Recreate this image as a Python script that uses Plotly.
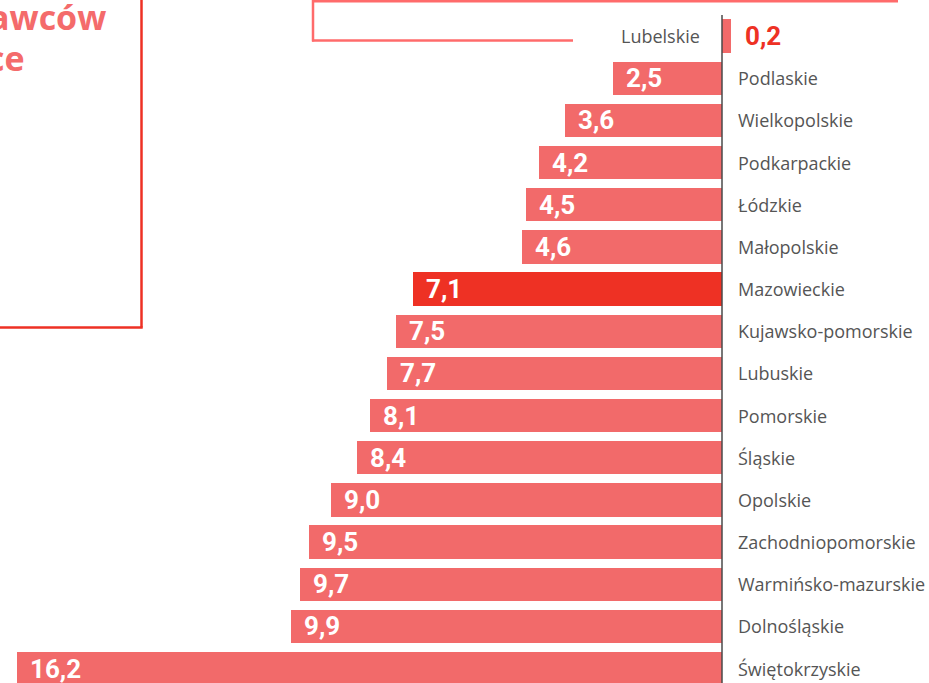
import plotly.graph_objects as go

regions = ["Lubelskie", "Podlaskie", "Wielkopolskie", "Podkarpackie", "Łódzkie",
           "Małopolskie", "Mazowieckie", "Kujawsko-pomorskie", "Lubuskie", "Pomorskie",
           "Śląskie", "Opolskie", "Zachodniopomorskie", "Warmińsko-mazurskie",
           "Dolnośląskie", "Świętokrzyskie"]
values = [0.2, 2.5, 3.6, 4.2, 4.5, 4.6, 7.1, 7.5, 7.7, 8.1, 8.4, 9.0, 9.5, 9.7, 9.9, 16.2]
value_labels = ["0,2", "2,5", "3,6", "4,2", "4,5", "4,6", "7,1", "7,5", "7,7", "8,1",
                "8,4", "9,0", "9,5", "9,7", "9,9", "16,2"]
highlight = "Mazowieckie"
flipped = "Lubelskie"

W, H = 929, 683
SALMON = "#F26A6A"
RED = "#EE3124"
GRAY = "#555555"

ypos = list(range(len(regions)))
bar_x = [v if r == flipped else -v for r, v in zip(regions, values)]
colors = [RED if r == highlight else SALMON for r in regions]

fig = go.Figure()
fig.add_trace(go.Bar(
    x=bar_x, y=ypos, orientation="h", marker=dict(color=colors, line=dict(width=0)),
    width=0.79, hoverinfo="skip"))

LABEL_FONT = dict(family="Open Sans", size=18, color=GRAY)
annotations = []
for i, (r, v, lab) in enumerate(zip(regions, values, value_labels)):
    if r == flipped:
        annotations.append(dict(x=0, y=i, xref="x", yref="y", text=r, showarrow=False,
                                xanchor="right", xshift=-20, font=LABEL_FONT))
        annotations.append(dict(x=0, y=i, xref="x", yref="y", text=f"<b>{lab}</b>",
                                showarrow=False, xanchor="left", xshift=21,
                                font=dict(family="Roboto", size=26, color=RED)))
    else:
        annotations.append(dict(x=0, y=i, xref="x", yref="y", text=r, showarrow=False,
                                xanchor="left", xshift=14, font=LABEL_FONT))
        annotations.append(dict(x=-v, y=i, xref="x", yref="y", text=f"<b>{lab}</b>",
                                showarrow=False, xanchor="left", xshift=11,
                                font=dict(family="Roboto", size=26, color="white")))


def px(x):
    return x / W


def py(y):
    return 1 - y / H


# cut-off title text in the left box
annotations.append(dict(x=px(108), y=py(-8), xref="paper", yref="paper",
                        text="<b>awców</b>", showarrow=False, xanchor="right", yanchor="top",
                        font=dict(family="Open Sans", size=34, color="#F46B6B")))
annotations.append(dict(x=px(27), y=py(33), xref="paper", yref="paper",
                        text="<b>ce</b>", showarrow=False, xanchor="right", yanchor="top",
                        font=dict(family="Open Sans", size=34, color="#F46B6B")))

SCALE = 43.5  # px per unit
AXIS_PX = 722
x_left = -AXIS_PX / SCALE
x_right = (W - AXIS_PX) / SCALE
PITCH = 42.16
y_top = -36.1 / PITCH
y_bottom = y_top + H / PITCH

shapes = [
    # left title box
    dict(type="line", xref="paper", yref="paper", x0=px(141.5), x1=px(141.5),
         y0=py(-5), y1=py(327.5), line=dict(color=RED, width=2.5)),
    dict(type="line", xref="paper", yref="paper", x0=px(-5), x1=px(142.7),
         y0=py(327.5), y1=py(327.5), line=dict(color=RED, width=2.5)),
    # top open box
    dict(type="line", xref="paper", yref="paper", x0=px(312), x1=px(898),
         y0=py(1.2), y1=py(1.2), line=dict(color="#FF6B6B", width=2.5)),
    dict(type="line", xref="paper", yref="paper", x0=px(313), x1=px(313),
         y0=py(-2), y1=py(41.5), line=dict(color="#FF6B6B", width=2.5)),
    dict(type="line", xref="paper", yref="paper", x0=px(312), x1=px(573),
         y0=py(40.5), y1=py(40.5), line=dict(color="#FF6B6B", width=2.5)),
    # vertical axis line
    dict(type="line", xref="x", yref="y", x0=0, x1=0, y0=-0.5, y1=y_bottom,
         line=dict(color="#4A4A4A", width=1.5), layer="above"),
]

fig.update_layout(
    width=W, height=H, margin=dict(l=0, r=0, t=0, b=0),
    paper_bgcolor="white", plot_bgcolor="white", showlegend=False,
    xaxis=dict(range=[x_left, x_right], visible=False, fixedrange=True),
    yaxis=dict(range=[y_bottom, y_top], visible=False, fixedrange=True),
    annotations=annotations, shapes=shapes, bargap=0,
)

fig.write_html("out.html", config=dict(displayModeBar=False),
               post_script="document.body.style.margin='0';document.body.style.overflow='hidden';")
